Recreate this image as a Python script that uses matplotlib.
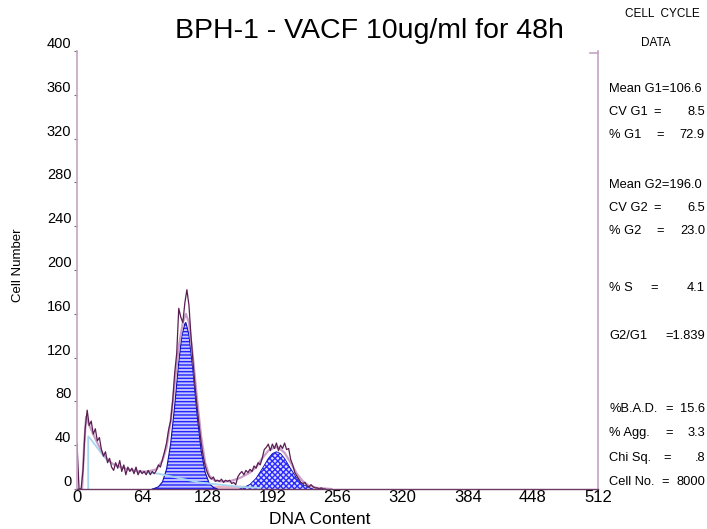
import matplotlib.pyplot as plt

plt.rcParams['font.family'] = ['Liberation Sans', 'DejaVu Sans']
plt.rcParams['hatch.linewidth'] = 1.0

# DNA histogram (channel, cell count), every 2 channels
hist_ch = list(range(0, 246, 2))
hist_counts = [42, 0, 0, 18, 55, 72, 58, 62, 50, 55, 44, 47, 36, 30, 34, 24, 28, 20, 17, 24,
               19, 26, 16, 22, 13, 20, 16, 19, 14, 20, 13, 17, 14, 16, 13, 17, 13, 16, 14, 17,
               22, 20, 27, 34, 42, 54, 62, 80, 106, 124, 165, 157, 152, 170, 182, 168, 140, 116, 94, 75,
               58, 42, 30, 21, 15, 11, 9, 11, 7, 8, 7, 9, 6, 8, 7, 8, 5, 6, 4, 11,
               14, 16, 13, 17, 15, 18, 16, 21, 19, 24, 22, 28, 36, 38, 41, 35, 41, 37, 42, 35,
               40, 37, 42, 36, 37, 27, 22, 15, 12, 9, 6, 5, 6, 3, 2, 4, 2, 1, 1, 0,
               1, 0, 0]

# fitted model sum
model_ch = [0, 5, 7, 9, 12, 16, 20, 25, 30, 35, 40, 50, 60, 70, 78, 84, 88, 92, 96, 100,
            104, 107, 110, 114, 118, 122, 126, 130, 135, 140, 150, 160, 170, 176, 182, 188, 194,
            198, 204, 210, 216, 222, 228, 236, 250]
model_counts = [0, 0, 40, 66, 58, 50, 42, 33, 27, 23, 21, 18, 16, 16, 18, 26, 38, 62, 96, 130,
                152, 160, 152, 120, 82, 48, 24, 12, 8, 7, 7, 10, 15, 20, 28, 35, 38,
                38, 33, 24, 14, 7, 3, 1, 0]

# debris component
debris_ch = [11, 11, 14, 18, 22, 26, 30, 35, 40, 50, 60, 70, 80, 90, 100, 110, 120, 130, 140,
             150, 160, 170, 180]
debris_counts = [0, 48, 45, 40, 35, 30, 26, 23, 21, 18, 16, 15, 14, 12, 10, 8, 6, 5, 4,
                 3, 2, 1.5, 1]

# G1 peak fit
g1_ch = [74, 76, 80, 84, 88, 92, 96, 100, 103, 106, 107, 110, 114, 118, 122, 126, 130, 134, 138]
g1_counts = [0, 0.5, 2, 6.5, 18, 41, 76, 116, 140, 151, 152, 141, 108, 68, 35, 15, 5, 1.5, 0]

# G2 peak fit
g2_ch = [160, 164, 170, 176, 182, 188, 192, 196, 200, 204, 210, 216, 222, 228, 232]
g2_counts = [0, 1.4, 4.2, 9.8, 18.5, 27.9, 32.4, 34, 32.4, 27.9, 18.5, 9.8, 4.2, 1.4, 0]

# S phase
s_ch = [120, 125, 140, 160, 175, 182]
s_counts = [0, 3, 3.5, 3.5, 3, 0]

x_ticks = [0, 64, 128, 192, 256, 320, 384, 448, 512]
y_ticks = [0, 40, 80, 120, 160, 200, 240, 280, 320, 360, 400]

stats = [
    ("Mean G1=106.6", None, None, 89),
    ("CV G1", "=", "8.5", 112),
    ("% G1", "=", "72.9", 135),
    ("Mean G2=196.0", None, None, 185),
    ("CV G2", "=", "6.5", 208),
    ("% G2", "=", "23.0", 231),
    ("% S", "=", "4.1", 288),
    ("G2/G1", None, "=1.839", 336),
    ("%B.A.D.", "=", "15.6", 409),
    ("% Agg.", "=", "3.3", 433),
    ("Chi Sq.", "=", ".8", 458),
    ("Cell No.", "=", "8000", 482),
]
eq_x = {"CV G1": 653, "% G1": 656, "CV G2": 653, "% G2": 656, "% S": 650,
        "%B.A.D.": 665, "% Agg.": 665, "Chi Sq.": 663, "Cell No.": 661}

W, H = 707, 529
fig = plt.figure(figsize=(W / 100, H / 100), dpi=100)
ax = fig.add_axes([77 / W, 1 - 489 / H, (598 - 77) / W, (489 - 51) / H])

spine_col = '#c4a4c4'
ax.fill_between(s_ch, s_counts, color='#eab4c4', lw=0)
ax.fill_between(g1_ch, g1_counts, facecolor='#c4c4ff', edgecolor='#2424ff', hatch='-----', lw=0)
ax.plot(g1_ch, g1_counts, color='#1010b0', lw=0.8)
ax.fill_between(g2_ch, g2_counts, facecolor='#dcdcff', edgecolor='#2a2aff', hatch='xxxxxx', lw=0)
ax.plot(g2_ch, g2_counts, color='#1010b0', lw=0.6)
ax.plot(debris_ch, debris_counts, color='#a6d6f0', lw=1.3)
ax.plot(model_ch, model_counts, color='#c8a0c8', lw=1.6)
ax.plot(hist_ch, hist_counts, color='#5a1e52', lw=0.9)

ax.set_xlim(0, 512)
ax.set_ylim(0, 400)
ax.set_xticks(x_ticks)
ax.set_yticks(y_ticks)
ax.tick_params(axis='x', labelsize=12, length=0, pad=1)
ax.tick_params(axis='y', labelsize=10.5, length=2, pad=2, color='#707070')
for lbl in ax.get_yticklabels():
    lbl.set_va('bottom')
ax.spines['top'].set_visible(False)
for s in ['left', 'right']:
    ax.spines[s].set_color(spine_col)
    ax.spines[s].set_linewidth(1.2)
ax.spines['bottom'].set_color('#6a3a64')
ax.spines['bottom'].set_linewidth(1.0)
ax.plot([504, 512], [398, 398], color=spine_col, lw=1.2, clip_on=False)

fig.text(320 / W, 1 - 519 / H, "DNA Content", fontsize=12.5, ha='center', va='center')
fig.text(18 / W, 1 - 265 / H, "Cell Number", rotation=90, fontsize=9.5, ha='center', va='center')

fig.text(369 / W, 1 - 31 / H, "BPH-1 - VACF 10ug/ml for 48h", fontsize=20.5, ha='center', va='center')
fig.text(662 / W, 1 - 14 / H, "CELL  CYCLE", fontsize=8.5, ha='center', va='center')
fig.text(656 / W, 1 - 43 / H, "DATA", fontsize=8.5, ha='center', va='center')

for label, eq, val, y in stats:
    fig.text(609 / W, 1 - y / H, label, fontsize=9.3, ha='left', va='center')
    if eq is not None:
        fig.text(eq_x[label] / W, 1 - y / H, eq, fontsize=9.3, ha='left', va='center')
    if val is not None:
        fig.text(705 / W, 1 - y / H, val, fontsize=9.3, ha='right', va='center')

fig.savefig("out.png", dpi=100)
